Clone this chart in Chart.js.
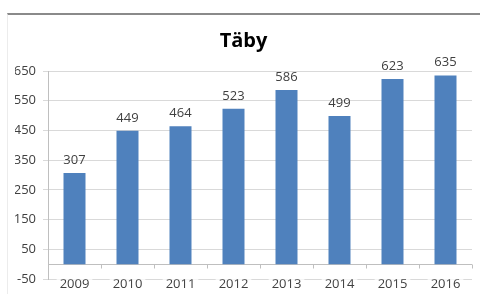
<!DOCTYPE html>
<html>
<head>
<meta charset="utf-8">
<script src="https://cdn.jsdelivr.net/npm/chart.js@4/dist/chart.umd.min.js"></script>
<style>
    body { margin: 0; background: #fff; }
    #wrap { position: relative; width: 480px; height: 294px; }
    #frame { position: absolute; left: 7px; top: 13px; width: 473px; height: 281px;
             border-top: 2px solid #8a8a8a; border-left: 1px solid #ececec; }
    canvas { position: absolute; left: 0; top: 0; }
</style>
</head>
<body>
<div id="wrap">
    <div id="frame"></div>
    <canvas id="tabyChart" width="480" height="294"></canvas>
</div>
<script>
// Data
const years = ["2009", "2010", "2011", "2012", "2013", "2014", "2015", "2016"];
const values = [307, 449, 464, 523, 586, 499, 623, 635];
const yTicks = [-50, 50, 150, 250, 350, 450, 550, 650];

const barColor = "#4f81bd";
const textColor = "#404040";
const fontName = "'Open Sans', 'Liberation Sans', sans-serif";

// Zero line with small tick marks between the categories
const zeroAxis = {
    id: 'zeroAxis',
    beforeDatasetsDraw(chart) {
        const ctx = chart.ctx;
        const x = chart.scales.x;
        const y0 = Math.round(chart.scales.y.getPixelForValue(0)) + 0.5;
        ctx.save();
        ctx.strokeStyle = "#bfbfbf";
        ctx.lineWidth = 1;
        ctx.beginPath();
        ctx.moveTo(chart.chartArea.left, y0);
        ctx.lineTo(chart.chartArea.right, y0);
        for (let i = 1; i <= years.length; i++) {
            const bx = Math.round(x.getPixelForValue(i - 0.5)) + 0.5;
            ctx.moveTo(bx, y0);
            ctx.lineTo(bx, y0 + 4);
        }
        ctx.stroke();
        ctx.restore();
    }
};

// Value labels above each bar
const barLabels = {
    id: 'barLabels',
    afterDatasetsDraw(chart) {
        const ctx = chart.ctx;
        const meta = chart.getDatasetMeta(0);
        ctx.save();
        ctx.font = "13px " + fontName;
        ctx.fillStyle = textColor;
        ctx.textAlign = "center";
        ctx.textBaseline = "alphabetic";
        meta.data.forEach((bar, i) => {
            ctx.fillText(values[i], bar.x, bar.y - 9);
        });
        ctx.restore();
    }
};

new Chart("tabyChart", {
    type: "bar",
    data: {
        labels: years,
        datasets: [{
            data: values,
            backgroundColor: barColor,
            categoryPercentage: 1,
            barPercentage: 0.415
        }]
    },
    plugins: [zeroAxis, barLabels],
    options: {
        responsive: false,
        animation: false,
        events: [],
        // left padding pushes the title centre a bit right, like the original
        layout: { padding: { left: 15, right: 8, top: 0, bottom: 0 } },
        plugins: {
            legend: { display: false },
            tooltip: { enabled: false },
            title: {
                display: true,
                text: "Täby",
                color: "#000",
                font: { family: fontName, size: 20, weight: "bold" },
                padding: { top: 29, bottom: 18 }
            }
        },
        scales: {
            x: {
                grid: { display: false, drawTicks: false },
                border: { display: false },
                ticks: {
                    color: textColor,
                    font: { family: fontName, size: 13 },
                    padding: -3,
                    maxRotation: 0,
                    showLabelBackdrop: true,
                    backdropColor: "#fff",
                    backdropPadding: { top: 0, bottom: 0, left: 3, right: 3 }
                },
                afterFit(scale) { scale.height = 13; }
            },
            y: {
                min: -50,
                max: 650,
                afterBuildTicks(scale) {
                    scale.ticks = yTicks.map(v => ({ value: v }));
                },
                grid: { color: "#d9d9d9", tickLength: 5, tickColor: "#d9d9d9" },
                border: { display: true, color: "#bfbfbf" },
                ticks: {
                    color: textColor,
                    font: { family: fontName, size: 13 },
                    padding: 7
                },
                afterFit(scale) { scale.width = 33; }
            }
        }
    }
});
</script>
</body>
</html>
